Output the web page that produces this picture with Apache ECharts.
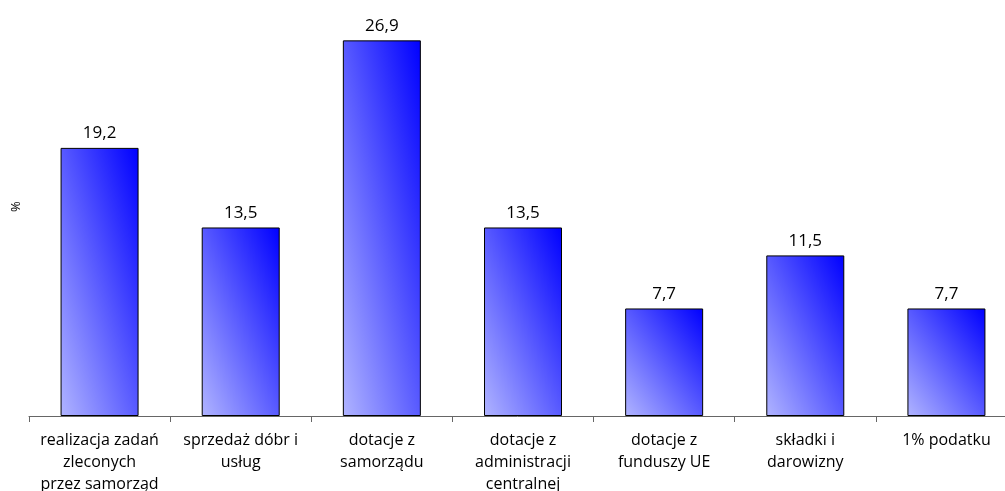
<!DOCTYPE html>
<html>
<head>
<meta charset="utf-8">
<script src="https://cdn.jsdelivr.net/npm/echarts@6/dist/echarts.min.js"></script>
<style>
  html, body { margin: 0; padding: 0; background: #fff; }
  #chart { width: 1005px; height: 491px; }
</style>
</head>
<body>
<div id="chart"></div>
<script>
// categories and values
const categories = [
  'realizacja zadań\nzleconych\nprzez samorząd',
  'sprzedaż dóbr i\nusług',
  'dotacje z\nsamorządu',
  'dotacje z\nadministracji\ncentralnej',
  'dotacje z\nfunduszy UE',
  'składki i\ndarowizny',
  '1% podatku'
]
const values = [19.2, 13.5, 26.9, 13.5, 7.7, 11.5, 7.7]
const yName = '%'

const gridTop = 25
const gridHeight = 391
const yMax = 28
const barW = 78

// diagonal fill like excel: light bottom-left, blue top-right,
// the band through the middle runs corner to corner
function barFill (v) {
  let h = v * gridHeight / yMax
  let L2 = h * h + barW * barW
  let a = h * h / L2
  let b = barW * barW / L2
  return new echarts.graphic.LinearGradient(0.5 - a, 0.5 + b, 0.5 + a, 0.5 - b, [
    { offset: 0, color: '#b0b4ff' },
    { offset: 1, color: '#0000ff' }
  ])
}

const chart = echarts.init(document.getElementById('chart'))
chart.setOption({
  animation: false,
  grid: {
    left: 29,
    width: 988,
    top: gridTop,
    height: gridHeight,
    outerBoundsMode: 'none'
  },
  graphic: [{
    type: 'text',
    x: 10,
    y: 212,
    rotation: Math.PI / 2,
    style: { text: yName, fill: '#000', font: '13px "Open Sans"' }
  }],
  xAxis: {
    type: 'category',
    data: categories,
    axisLine: { lineStyle: { color: '#666', width: 1 } },
    axisTick: { show: true, length: 6, lineStyle: { color: '#666' } },
    axisLabel: {
      interval: 0,
      color: '#000',
      fontFamily: 'Open Sans',
      fontSize: 16,
      lineHeight: 22,
      margin: 13
    }
  },
  yAxis: {
    type: 'value',
    min: 0,
    max: yMax,
    axisLine: { show: false },
    axisTick: { show: false },
    axisLabel: { show: false },
    splitLine: { show: false }
  },
  series: [{
    type: 'bar',
    data: values.map(v => ({ value: v, itemStyle: { color: barFill(v) } })),
    barWidth: barW,
    itemStyle: {
      borderColor: '#000',
      borderWidth: 1
    },
    label: {
      show: true,
      position: 'top',
      distance: 6,
      color: '#000',
      fontFamily: 'Open Sans',
      fontSize: 17,
      formatter: p => String(p.value).replace('.', ',')
    }
  }]
})
</script>
</body>
</html>
